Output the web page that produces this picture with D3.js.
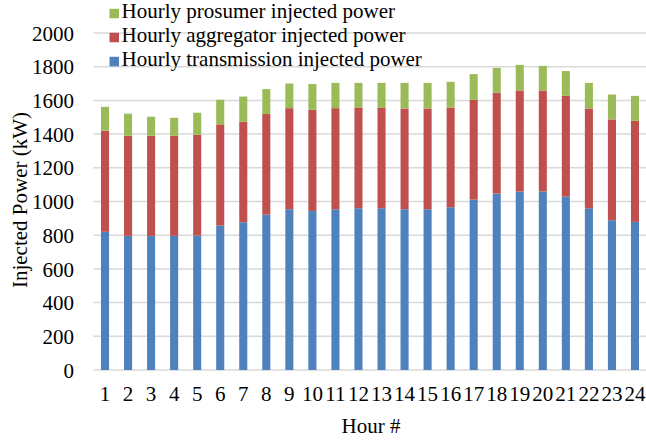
<!DOCTYPE html>
<html><head><meta charset="utf-8">
<script src="https://cdn.jsdelivr.net/npm/d3@7"></script>
<style>body{margin:0;background:#fff}svg{display:block}svg text{font-family:"Liberation Serif","Times New Roman",Tinos,"DejaVu Serif",serif !important;fill:#000}</style>
</head><body>
<script>
const hours = ["1","2","3","4","5","6","7","8","9","10","11","12","13","14","15","16","17","18","19","20","21","22","23","24"];
const transmission = [820,796,796,796,798,857,877,922,954,944,954,960,960,954,954,966,1011,1047,1059,1059,1029,960,889,879];
const aggregator = [600,594,594,594,598,601,596,597,600,600,600,598,598,598,598,592,593,598,600,600,598,592,598,600];
const prosumer = [142,131,113,107,131,146,150,148,146,153,150,146,146,152,152,152,152,148,152,146,147,152,148,148];
const yTicks = [0,200,400,600,800,1000,1200,1400,1600,1800,2000];
const seriesNames = ["Hourly transmission injected power","Hourly aggregator injected power","Hourly prosumer injected power"];
const colors = ["#4F81BD","#C0504D","#9BBB59"];

const W=646,H=441;
const svg=d3.select("body").append("svg").attr("width",W).attr("height",H)
  .attr("font-family","Liberation Serif, serif");
const x=d3.scaleBand().domain(hours).range([93.5,646.5]).paddingInner(0.65).paddingOuter(0.325);
const y=d3.scaleLinear().domain([0,2000]).range([370,33]);

// gridlines
svg.append("g").selectAll("line").data(yTicks).join("line")
  .attr("x1",93.5).attr("x2",646).attr("y1",d=>y(d)).attr("y2",d=>y(d))
  .attr("stroke","#d9d9d9").attr("stroke-width",1.5);

// y axis labels
const yAxis=d3.axisLeft(y).tickValues(yTicks).tickFormat(d3.format("d")).tickSize(0).tickPadding(0);
const gy=svg.append("g").attr("transform","translate(74,0)").call(yAxis).attr("font-family",null).attr("font-size",null);
gy.select(".domain").remove();
gy.selectAll("text").style("font-size","21px").attr("fill","#000").attr("dy","0.34em");

// stacked data
const table=hours.map((h,i)=>({h,t:transmission[i],a:aggregator[i],p:prosumer[i]}));
const stack=d3.stack().keys(["t","a","p"])(table);
svg.append("g").selectAll("g").data(stack).join("g").attr("fill",(d,i)=>colors[i])
  .selectAll("rect").data(d=>d).join("rect")
  .attr("x",d=>x(d.data.h)).attr("width",x.bandwidth())
  .attr("y",d=>y(d[1])).attr("height",d=>y(d[0])-y(d[1]));

// x axis
const xAxis=d3.axisBottom(x).tickSize(0).tickPadding(0);
const gx=svg.append("g").attr("transform","translate(0,401)").call(xAxis).attr("font-family",null).attr("font-size",null);
gx.select(".domain").remove();
gx.selectAll("text").style("font-size","21px").attr("fill","#000").attr("y",0).attr("dy","0");

// axis titles
svg.append("text").attr("x",371).attr("y",433).attr("text-anchor","middle").style("font-size","21px").text("Hour #");
svg.append("text").attr("transform","translate(27,200) rotate(-90)").attr("text-anchor","middle").style("font-size","21px").text("Injected Power (kW)");

// legend
const leg=[2,1,0];
const lg=svg.append("g").selectAll("g").data(leg).join("g").attr("transform",(d,i)=>`translate(109.5,${18.3+i*24})`);
lg.append("rect").attr("x",0).attr("y",-9.5).attr("width",9.5).attr("height",9.5).attr("fill",d=>colors[d]);
lg.append("text").attr("x",12).attr("y",0).style("font-size","21px").text(d=>seriesNames[d]);
</script>
</body></html>
